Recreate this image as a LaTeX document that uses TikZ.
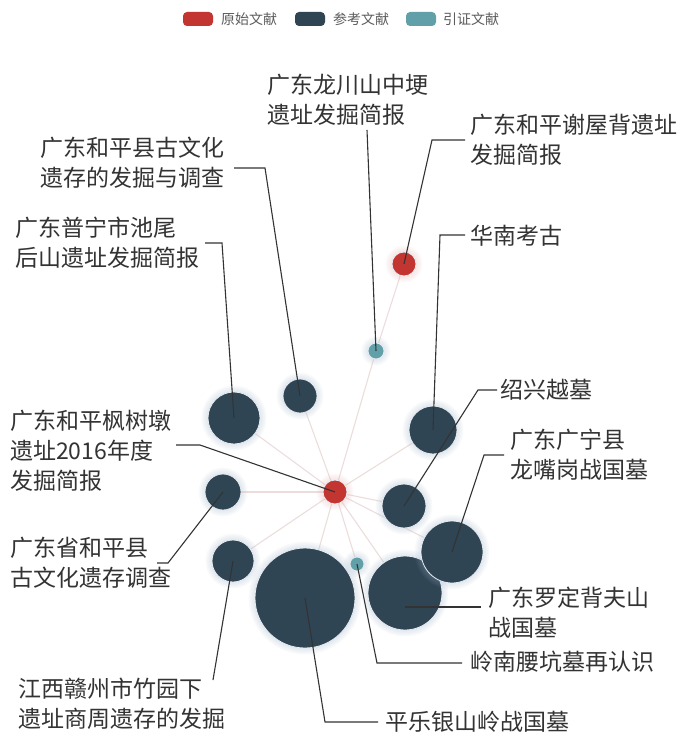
\documentclass[tikz,border=0pt]{standalone}
\usepackage{fontspec}
\newfontfamily\cjk{Noto Sans CJK SC}
\definecolor{cred}{HTML}{C23531}
\definecolor{cdark}{HTML}{2F4554}
\definecolor{cteal}{HTML}{61A0A8}
\definecolor{ctext}{HTML}{333333}
\definecolor{chalo}{HTML}{9FB6CC}
\pgfdeclarelayer{bg}
\pgfsetlayers{bg,main}
\newcommand\bubble[6]{%
  \foreach \k in {1,...,4}{\fill[#6, opacity=0.07] (#2,#3) circle[radius=#4+\k*1.6];}
  \node[bub, fill=#5, minimum size={2*#4pt}] (#1) at (#2,#3) {};
}
\begin{document}
\begin{tikzpicture}[x=1pt,y=-1pt,
  lab/.style={font={\cjk\fontsize{23}{30}\selectfont}, text=ctext, align=left, anchor=west, inner sep=0pt},
  leg/.style={font={\cjk\fontsize{14}{16}\selectfont}, text=ctext!80, anchor=west, inner sep=0pt},
  swatch/.style={rounded corners=4pt, minimum width=30pt, minimum height=14pt, inner sep=0pt, draw=none},
  bub/.style={circle, inner sep=0pt, draw=white!75!chalo, line width=0.8pt},
  edge/.style={cred!55!gray, opacity=0.2, line width=1.1pt},
  leader/.style={draw=ctext, line width=1.1pt}
]
\begin{pgfonlayer}{bg}
\fill[white] (0,0) rectangle (686,738);
\end{pgfonlayer}
\useasboundingbox (0,0) rectangle (686,738);

% legend
\node[swatch, fill=cred] (sw1) at (198,19) {};
\node[leg] (lg1) at (221,19) {原始文献};
\node[swatch, fill=cdark] (sw2) at (310,19) {};
\node[leg] (lg2) at (333,19) {参考文献};
\node[swatch, fill=cteal] (sw3) at (421,19) {};
\node[leg] (lg3) at (443,19) {引证文献};

% bubbles
\bubble{redT}{404}{264}{12}{cred}{cred!40}
\bubble{tealT}{376}{351}{8}{cteal}{chalo}
\bubble{A}{300}{396}{17}{cdark}{chalo}
\bubble{B}{234}{418}{26}{cdark}{chalo}
\bubble{C}{433}{430}{24}{cdark}{chalo}
\bubble{D}{223}{492}{18}{cdark}{chalo}
\bubble{E}{404}{506}{22}{cdark}{chalo}
\bubble{G}{233}{561}{21}{cdark}{chalo}
\bubble{H}{305}{598}{50}{cdark}{chalo}
\bubble{I}{405}{593}{37}{cdark}{chalo}
\bubble{F}{452}{552}{31}{cdark}{chalo}
\bubble{tealB}{357}{564}{7}{cteal}{chalo}
\bubble{red}{335}{492}{12}{cred}{cred!40}

% edges
\begin{pgfonlayer}{bg}
\foreach \t in {A,B,C,D,E,F,G,H,I,tealB,tealT}{\draw[edge] (red) -- (\t);}
\draw[edge] (tealT) -- (redT);
\end{pgfonlayer}

% labels
\node[lab] (l1) at (267,100) {广东龙川山中埂\\遗址发掘简报};
\node[lab] (l2) at (470,140) {广东和平谢屋背遗址\\发掘简报};
\node[lab] (l3) at (470,236) {华南考古};
\node[lab] (l4) at (500,390) {绍兴越墓};
\node[lab] (l5) at (510,455) {广东广宁县\\龙嘴岗战国墓};
\node[lab] (l6) at (488,613) {广东罗定背夫山\\战国墓};
\node[lab] (l7) at (470,662) {岭南腰坑墓再认识};
\node[lab] (l8) at (385,722) {平乐银山岭战国墓};
\node[lab] (l9) at (18,704) {江西赣州市竹园下\\遗址商周遗存的发掘};
\node[lab] (l10) at (10,563) {广东省和平县\\古文化遗存调查};
\node[lab] (l11) at (10,451) {广东和平枫树墩\\遗址2016年度\\发掘简报};
\node[lab] (l12) at (15,243) {广东普宁市池尾\\后山遗址发掘简报};
\node[lab] (l13) at (40,163) {广东和平县古文化\\遗存的发掘与调查};

% leader ends
\coordinate (e1) at (367,130);
\coordinate (e2) at (465,140); \coordinate (k2) at (432,140);
\coordinate (e3) at (465,235); \coordinate (k3) at (440,235);
\coordinate (e4) at (497,390); \coordinate (k4) at (478,390);
\coordinate (e5) at (504,455); \coordinate (k5) at (484,455);
\coordinate (e6) at (481,607);
\coordinate (e7) at (462,663); \coordinate (k7) at (377,663);
\coordinate (e8) at (378,722); \coordinate (k8) at (325,722);
\coordinate (e9) at (213,680);
\coordinate (e10) at (157,563); \coordinate (k10) at (168,563);
\coordinate (e11) at (176,445); \coordinate (k11) at (200,445);
\coordinate (e12) at (205,243); \coordinate (k12) at (222,243);
\coordinate (e13) at (234,168); \coordinate (k13) at (265,168);

\draw[leader] (tealT.center) -- (e1);
\draw[leader] (redT.center) -- (k2) -- (e2);
\draw[leader] (C.center) -- (k3) -- (e3);
\draw[leader] (E.center) -- (k4) -- (e4);
\draw[leader] (F.center) -- (k5) -- (e5);
\draw[leader] (I.center |- e6) -- (e6);
\draw[leader] (tealB.center) -- (k7) -- (e7);
\draw[leader] (H.center) -- (k8) -- (e8);
\draw[leader] (G.center) -- (e9);
\draw[leader] (D.center) -- (k10) -- (e10);
\draw[leader] (red.center) -- (k11) -- (e11);
\draw[leader] (B.center) -- (k12) -- (e12);
\draw[leader] (A.center) -- (k13) -- (e13);
\end{tikzpicture}
\end{document}
